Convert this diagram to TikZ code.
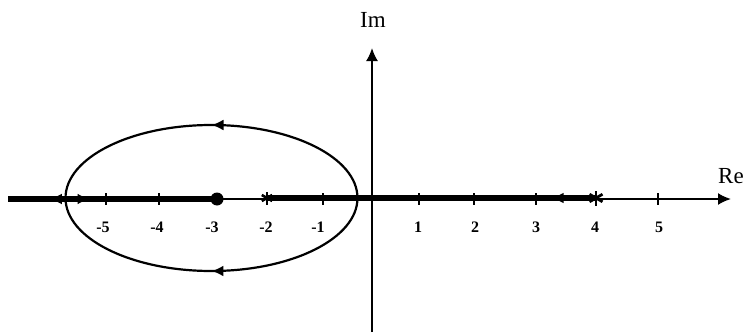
\documentclass[tikz,border=0pt]{standalone}
\usepackage{fontspec}
\setmainfont{Liberation Serif}
\usetikzlibrary{arrows.meta,decorations.markings}
\begin{document}
\begin{tikzpicture}[x=1pt,y=-1pt,
  >={Latex[length=12pt,width=11pt]},
  axisline/.style={line width=1.9pt},
  locus/.style={line width=5.5pt},
  loop/.style={line width=2.2pt},
  axtip/.style={-{Latex[length=13pt,width=12pt]}},
  ticklbl/.style={font=\fontsize{16}{18}\selectfont\bfseries, inner sep=0pt},
  axlbl/.style={font=\fontsize{23}{26}\selectfont, inner sep=0pt},
  arrowat/.style={postaction={decorate,decoration={markings,mark=at position #1 with {\arrow{>}}}}},
  arrowback/.style={postaction={decorate,decoration={markings,mark=at position #1 with {\arrowreversed{>}}}}},
  zeropt/.style={inner sep=0pt, minimum size=12pt}
]
\useasboundingbox (0,0) rectangle (744,332);

% named points
\coordinate (O) at (372,199);
\coordinate (Lend) at (8,199);
\coordinate (Rtip) at (731,199);
\coordinate (Vbot) at (372,332);
\coordinate (Vtip) at (372,48);
\coordinate (Eright) at (357.5,198);

% axes
\draw[axisline,axtip] (Lend) -- (Rtip);
\draw[axisline,axtip] (Vbot) -- (Vtip);

% ticks and labels
\foreach \v/\x/\lx in {-5/106/103,-4/159/157,-3/218/212,-2/267/266,-1/323/318,1/419/418,2/474/475,3/536/536,4/596/595,5/658/659}{
  \draw[line width=1.4pt] (\x,193) -- (\x,205);
  \node[ticklbl] (t\v) at (\lx,227) {\v};
}

% axis labels
\node[axlbl] (im) at (373,20) {Im};
\node[axlbl,anchor=west] (re) at (718,176) {Re};

% pole / zero markers
\node[circle,fill=black,inner sep=0pt,minimum size=13pt] (dot) at (217,199) {};
\node[zeropt] (s2) at (267,198) {};
\node[zeropt] (s4) at (596,198) {};
\foreach \a in {0,60,120}{
  \draw[line width=2.6pt] (s2.center) ++({\a+90}:6) -- ++({\a+270}:12);
  \draw[line width=2.8pt] (s4.center) ++({\a+90}:7.5) -- ++({\a+270}:15);
}

% root locus branches on the real axis
\draw[locus,arrowback=0.2,arrowat=0.39] (Lend) -- (dot.center);
\draw[locus,arrowback=0.865] (s2.center) -- (s4.center);

% closed locus around the zero
\draw[loop,arrowat=0.5] (Eright) arc[start angle=0,end angle=180,x radius=146,y radius=73];
\draw[loop,arrowat=0.5] (Eright) arc[start angle=0,end angle=-180,x radius=146,y radius=73];
\end{tikzpicture}
\end{document}
